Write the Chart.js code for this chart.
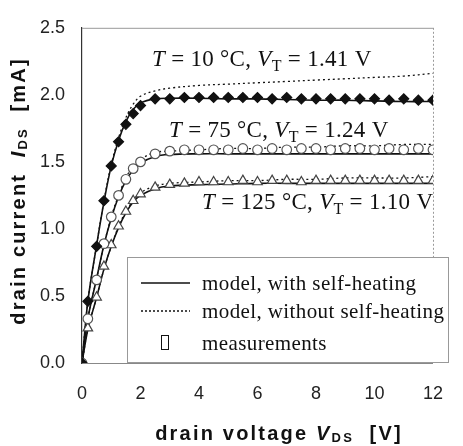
<!DOCTYPE html>
<html>
<head>
<meta charset="utf-8">
<script src="https://cdn.jsdelivr.net/npm/chart.js@4"></script>
<style>
  body { margin: 0; background: #fff; }
  canvas { display: block; }
</style>
</head>
<body>
<canvas id="myChart" width="463" height="446"></canvas>
<script>
// Valores (VDS em V, IDS em mA)
const vMeas = [0, 0.2, 0.5, 0.75, 1, 1.25, 1.5, 1.75, 2, 2.5, 3, 3.5, 4, 4.5, 5, 5.5, 6, 6.5, 7, 7.5, 8, 8.5, 9, 9.5, 10, 10.5, 11, 11.5, 12];
const meas10 = [0, 0.46, 0.87, 1.21, 1.47, 1.65, 1.78, 1.86, 1.92, 1.97, 1.97, 1.98, 1.98, 1.98, 1.98, 1.98, 1.98, 1.97, 1.98, 1.97, 1.97, 1.97, 1.97, 1.97, 1.97, 1.96, 1.97, 1.96, 1.96];
const meas75 = [0, 0.33, 0.62, 0.89, 1.09, 1.25, 1.37, 1.45, 1.50, 1.56, 1.58, 1.59, 1.59, 1.59, 1.59, 1.60, 1.59, 1.60, 1.59, 1.60, 1.60, 1.59, 1.60, 1.60, 1.59, 1.60, 1.59, 1.60, 1.59];
const meas125 = [0, 0.26, 0.49, 0.72, 0.88, 1.02, 1.13, 1.21, 1.26, 1.31, 1.33, 1.34, 1.35, 1.35, 1.35, 1.36, 1.35, 1.36, 1.36, 1.35, 1.36, 1.36, 1.36, 1.36, 1.36, 1.36, 1.36, 1.36, 1.36];

const vModel = [0, 0.2, 0.5, 0.75, 1, 1.25, 1.5, 1.75, 2, 2.5, 3, 4, 5, 6, 7, 8, 9, 10, 11, 12];
const sh10 = [0, 0.46, 0.88, 1.20, 1.47, 1.66, 1.80, 1.89, 1.94, 1.97, 1.975, 1.975, 1.97, 1.97, 1.965, 1.96, 1.96, 1.955, 1.95, 1.95];
const nosh10 = [0, 0.46, 0.88, 1.21, 1.48, 1.68, 1.83, 1.93, 1.99, 2.03, 2.05, 2.07, 2.08, 2.09, 2.10, 2.11, 2.12, 2.13, 2.14, 2.16];
const sh75 = [0, 0.33, 0.63, 0.88, 1.08, 1.24, 1.36, 1.44, 1.49, 1.54, 1.555, 1.56, 1.56, 1.56, 1.56, 1.56, 1.56, 1.56, 1.56, 1.56];
const nosh75 = [0, 0.33, 0.63, 0.88, 1.09, 1.25, 1.38, 1.47, 1.52, 1.57, 1.58, 1.59, 1.60, 1.60, 1.61, 1.61, 1.62, 1.62, 1.63, 1.63];
const sh125 = [0, 0.25, 0.49, 0.70, 0.87, 1.01, 1.12, 1.20, 1.25, 1.30, 1.32, 1.33, 1.335, 1.34, 1.34, 1.34, 1.34, 1.34, 1.34, 1.34];
const nosh125 = [0, 0.25, 0.49, 0.70, 0.87, 1.02, 1.13, 1.21, 1.27, 1.32, 1.34, 1.35, 1.36, 1.36, 1.37, 1.37, 1.38, 1.38, 1.38, 1.39];

const xTicks = [0, 2, 4, 6, 8, 10, 12];
const yTicks = [0.0, 0.5, 1.0, 1.5, 2.0, 2.5];

function pts(xs, ys) {
    return xs.map((x, i) => ({ x: x, y: ys[i] }));
}

function markers(ys, style, r, fill, stroke) {
    return {
        data: pts(vMeas, ys), showLine: false, pointStyle: style, pointRadius: r,
        backgroundColor: fill, borderColor: stroke, pointBorderWidth: 1.2
    };
}

function curve(ys, dashed) {
    return {
        data: pts(vModel, ys), showLine: true, pointRadius: 0, borderColor: '#111',
        borderWidth: dashed ? 1.3 : 1.6, borderDash: dashed ? [2, 3] : [], tension: 0.35
    };
}

// Texto com partes em itálico / subscrito
function drawRich(ctx, segs, x, y, align) {
    let w = 0;
    segs.forEach(s => { ctx.font = s.font; w += ctx.measureText(s.t).width; });
    let cx = align === 'center' ? x - w / 2 : x;
    segs.forEach(s => {
        ctx.font = s.font;
        ctx.fillText(s.t, cx, y + (s.dy || 0));
        cx += ctx.measureText(s.t).width;
    });
}

const serif = '"Liberation Serif", "Times New Roman", serif';
const sans = '"Liberation Sans", Arial, sans-serif';

function tempLabel(temp, vt) {
    return [
        { t: 'T', font: 'italic 23px ' + serif },
        { t: ' = ' + temp + ' °C, ', font: '23px ' + serif },
        { t: 'V', font: 'italic 23px ' + serif },
        { t: 'T', font: '16px ' + serif, dy: 5 },
        { t: ' = ' + vt + ' V', font: '23px ' + serif }
    ];
}

const overlay = {
    id: 'overlay',
    afterDraw(chart) {
        const ctx = chart.ctx;
        const a = chart.chartArea;
        ctx.save();

        // moldura superior e direita
        ctx.strokeStyle = '#999';
        ctx.lineWidth = 1;
        ctx.beginPath();
        ctx.moveTo(a.left, a.top + 0.5);
        ctx.lineTo(a.right, a.top + 0.5);
        ctx.stroke();
        ctx.setLineDash([2, 2]);
        ctx.beginPath();
        ctx.moveTo(a.right + 0.5, a.top);
        ctx.lineTo(a.right + 0.5, a.bottom);
        ctx.stroke();
        ctx.setLineDash([]);

        // anotações de temperatura
        ctx.fillStyle = '#111';
        ctx.textBaseline = 'alphabetic';
        ctx.textAlign = 'left';
        ctx.letterSpacing = '0.3px';
        drawRich(ctx, tempLabel('10', '1.41'), 152, 66);
        drawRich(ctx, tempLabel('75', '1.24'), 169, 137);
        drawRich(ctx, tempLabel('125', '1.10'), 202, 209);

        // legenda
        ctx.fillStyle = '#fff';
        ctx.fillRect(127, 257, 321, 105);
        ctx.strokeStyle = '#999';
        ctx.strokeRect(127.5, 257.5, 321, 105);
        ctx.strokeStyle = '#111';
        ctx.lineWidth = 1.6;
        ctx.beginPath();
        ctx.moveTo(141, 283);
        ctx.lineTo(190, 283);
        ctx.stroke();
        ctx.lineWidth = 1.3;
        ctx.setLineDash([2, 2]);
        ctx.beginPath();
        ctx.moveTo(141, 311);
        ctx.lineTo(190, 311);
        ctx.stroke();
        ctx.setLineDash([]);
        ctx.lineWidth = 1;
        ctx.strokeRect(161.5, 335.5, 7, 14);
        ctx.fillStyle = '#111';
        ctx.font = '21px ' + serif;
        ctx.letterSpacing = '0.4px';
        ctx.fillText('model, with self-heating', 202, 290);
        ctx.fillText('model, without self-heating', 202, 318);
        ctx.fillText('measurements', 202, 350);

        // títulos dos eixos
        ctx.letterSpacing = '2.2px';
        drawRich(ctx, [
            { t: 'drain voltage ', font: 'bold 20px ' + sans },
            { t: 'V', font: 'italic bold 20px ' + sans },
            { t: 'DS', font: 'bold 13px ' + sans, dy: 2 },
            { t: '  [V]', font: 'bold 20px ' + sans }
        ], 279, 440, 'center');
        ctx.translate(25, 191);
        ctx.rotate(-Math.PI / 2);
        drawRich(ctx, [
            { t: 'drain current  ', font: 'bold 20px ' + sans },
            { t: 'I', font: 'italic bold 20px ' + sans },
            { t: 'DS', font: 'bold 13px ' + sans, dy: 2 },
            { t: '  [mA]', font: 'bold 20px ' + sans }
        ], 0, 0, 'center');
        ctx.restore();
    }
};

var ctx = document.getElementById('myChart').getContext('2d');
var chart = new Chart(ctx, {
    type: 'scatter',
    data: {
        datasets: [
            markers(meas10, 'rectRot', 5, '#111', '#111'),
            markers(meas75, 'circle', 4.8, '#fff', '#555'),
            markers(meas125, 'triangle', 5.5, '#fff', '#444'),
            curve(sh10, false),
            curve(nosh10, true),
            curve(sh75, false),
            curve(nosh75, true),
            curve(sh125, false),
            curve(nosh125, true)
        ]
    },
    options: {
        responsive: false,
        animation: false,
        layout: { padding: { top: 18, right: 8, left: 0, bottom: 0 } },
        plugins: { legend: { display: false }, tooltip: { enabled: false } },
        scales: {
            x: {
                type: 'linear', min: 0, max: 12,
                afterFit: s => { s.height = 83; },
                afterBuildTicks: s => { s.ticks = xTicks.map(v => ({ value: v })); },
                grid: { display: false, drawTicks: false },
                border: { display: true, color: '#888', width: 1 },
                ticks: { padding: 20, color: '#222', font: { family: sans, size: 18 } }
            },
            y: {
                type: 'linear', min: 0, max: 2.5,
                afterFit: s => { s.width = 82; },
                afterBuildTicks: s => { s.ticks = yTicks.map(v => ({ value: v })); },
                grid: { display: false, drawTicks: false },
                border: { display: true, color: '#333', width: 1.2 },
                ticks: {
                    padding: 17, color: '#222', font: { family: sans, size: 18 },
                    callback: v => v.toFixed(1)
                }
            }
        }
    },
    plugins: [overlay]
});
</script>
</body>
</html>
